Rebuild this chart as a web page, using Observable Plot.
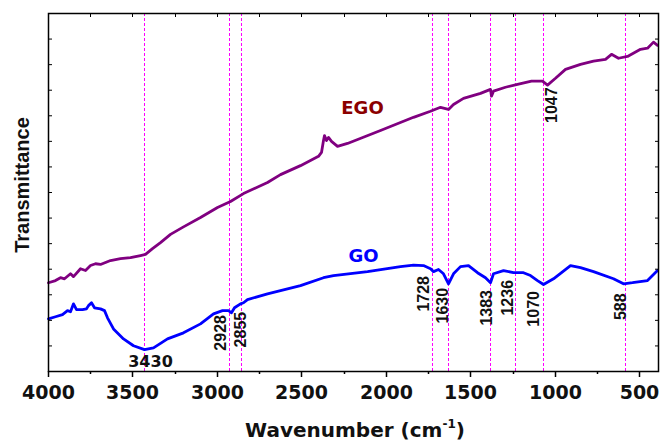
<!DOCTYPE html>
<html>
<head>
<meta charset="utf-8">
<script src="https://cdn.jsdelivr.net/npm/d3@7"></script>
<script src="https://cdn.jsdelivr.net/npm/@observablehq/plot@0.6"></script>
<style>
  html, body { margin: 0; padding: 0; background: #fff; }
  #chart svg { display: block; }
</style>
</head>
<body>
<div id="chart"></div>
<script>
// ---- Data ----
const goWavenumber = [4000,3960,3919,3889,3872,3854,3836,3801,3777,3765,3747,3730,3694,3670,3653,3617,3558,3499,3434,3380,3298,3203,3102,3025,2972,2936,2919,2901,2866,2848,2824,2706,2511,2375,2315,2114,1919,1842,1783,1741,1724,1694,1665,1635,1605,1564,1517,1463,1416,1387,1369,1310,1250,1191,1150,1108,1072,1013,913,854,777,659,600,541,458,428,395];
const goTrans = [14.7,15.3,15.9,17.0,16.7,18.9,17.3,17.3,17.5,18.4,19.2,17.8,17.5,17.0,15.0,11.9,9.1,7.2,6.1,6.6,9.1,10.8,13.3,16.1,17.0,17.0,16.4,17.8,18.9,19.2,20.1,21.7,24.0,26.2,26.8,27.9,29.3,29.7,29.6,28.7,27.9,28.5,27.3,24.5,27.3,29.3,29.6,27.6,26.2,24.8,27.3,28.2,27.6,27.6,26.8,25.4,24.3,25.9,29.6,29.0,27.9,25.9,24.5,24.8,25.4,26.8,28.2];

const egoWavenumber = [4000,3960,3931,3907,3872,3854,3812,3783,3753,3724,3694,3635,3576,3517,3457,3428,3386,3339,3280,3203,3102,3002,2925,2848,2706,2629,2511,2404,2386,2375,2369,2357,2345,2327,2292,2233,2038,1842,1741,1682,1635,1605,1546,1445,1387,1381,1369,1298,1222,1144,1075,1047,1002,943,854,777,706,671,629,576,499,458,422,395];
const egoTrans = [24.8,25.4,26.2,25.9,27.3,26.5,28.7,28.2,29.6,30.1,29.9,31.0,31.5,31.8,32.4,32.7,34.3,36.0,38.3,40.4,43.0,45.8,47.5,49.7,52.8,55.0,57.5,60.1,61.2,64.5,65.9,64.5,65.4,64.3,62.9,63.7,67.3,71.0,72.7,73.8,73.2,74.6,76.3,77.7,78.8,76.9,78.3,79.4,80.2,81.1,81.1,80.0,81.9,84.4,85.8,86.7,87.2,88.6,87.5,88.0,90.0,90.3,92.0,91.1];

// peak marker lines (cm-1)
const peakLines = [3430, 2928, 2855, 1728, 1630, 1383, 1236, 1070, 588];

// rotated peak labels
const rotLabels = ["2928", "2855", "1728", "1630", "1383", "1236", "1070", "588", "1047"];
const rotLabelX = [2984, 2866, 1783, 1670, 1410, 1286, 1132, 617, 1026];
const rotLabelY = [10.8, 11.7, 21.7, 18.4, 17.8, 20.6, 17.5, 18.1, 74.4];

// horizontal peak label
const flatLabels = ["3430"];
const flatLabelX = [3398];
const flatLabelY = [2.7];

// series names
const seriesNames = ["EGO", "GO"];
const seriesLabelX = [2144, 2138];
const seriesLabelY = [73.5, 32.1];
const seriesLabelColor = ["#8B0000", "#0000FF"];

const xMajorTicks = [4000, 3500, 3000, 2500, 2000, 1500, 1000, 500];
const xMinorTicks = [3750, 3250, 2750, 2250, 1750, 1250, 750];
const xTopTicks = [3750, 3500, 3250, 3000, 2750, 2500, 2250, 2000, 1750, 1500, 1250, 1000, 750, 500];
const yTicks = d3.range(0, 15).map(i => i * 100 / 14);

const goData = goWavenumber.map((w, i) => ({w, t: goTrans[i]}));
const egoData = egoWavenumber.map((w, i) => ({w, t: egoTrans[i]}));
const rotData = rotLabels.map((s, i) => ({s, w: rotLabelX[i], t: rotLabelY[i]}));
const flatData = flatLabels.map((s, i) => ({s, w: flatLabelX[i], t: flatLabelY[i]}));
const seriesData = seriesNames.map((s, i) => ({s, w: seriesLabelX[i], t: seriesLabelY[i], c: seriesLabelColor[i]}));

const chart = Plot.plot({
  width: 663,
  height: 442,
  marginLeft: 48,
  marginRight: 5,
  marginTop: 13,
  marginBottom: 71,
  style: {background: "#fff", overflow: "visible"},
  x: {domain: [4000, 390], round: true},
  y: {domain: [0, 100]},
  marks: [
    Plot.ruleX(peakLines, {stroke: "#ff00ff", strokeWidth: 1, strokeDasharray: "3,2"}),
    Plot.line(egoData, {x: "w", y: "t", stroke: "#800080", strokeWidth: 2.8, strokeLinejoin: "round"}),
    Plot.line(goData, {x: "w", y: "t", stroke: "#0000ff", strokeWidth: 2.8, strokeLinejoin: "round"}),
    Plot.text(rotData, {x: "w", y: "t", text: "s", rotate: -90, fontFamily: "Liberation Sans", fontWeight: "bold", fontSize: 16, fill: "#111", textAnchor: "middle"}),
    Plot.text(flatData, {x: "w", y: "t", text: "s", fontFamily: "DejaVu Sans", fontWeight: "bold", fontSize: 16, fill: "#111"}),
    Plot.text(seriesData, {x: "w", y: "t", text: "s", fill: "c", fontFamily: "DejaVu Sans", fontWeight: "bold", fontSize: 18}),
    Plot.frame({stroke: "#000", strokeWidth: 1.5}),
    Plot.axisX({anchor: "bottom", ticks: xMajorTicks, tickSize: 6, tickPadding: 8, tickFormat: d => String(d), fontFamily: "DejaVu Sans", fontWeight: "bold", fontSize: 19, label: null, strokeWidth: 1.5, fill: "#111"}),
    Plot.axisX({anchor: "bottom", ticks: xMinorTicks, tickSize: 3, tickFormat: () => "", label: null, strokeWidth: 1.5}),
    Plot.axisX({anchor: "top", ticks: xTopTicks, tickSize: -3, tickFormat: () => "", label: null, strokeWidth: 1}),
    Plot.axisY({anchor: "left", ticks: yTicks, tickSize: -4, tickFormat: () => "", label: null, strokeWidth: 1}),
    Plot.axisY({anchor: "right", ticks: yTicks, tickSize: -4, tickFormat: () => "", label: null, strokeWidth: 1})
  ]
});

document.getElementById("chart").appendChild(chart);

// axis titles
const svg = d3.select(chart);
const xt = svg.append("text")
  .attr("x", 355).attr("y", 437)
  .attr("text-anchor", "middle")
  .attr("font-family", "DejaVu Sans")
  .attr("font-weight", "bold")
  .attr("font-size", 20)
  .attr("fill", "#111");
xt.append("tspan").text("Wavenumber (cm");
xt.append("tspan").attr("font-size", 12).attr("dy", -9).text("-1");
xt.append("tspan").attr("dy", 9).text(")");

svg.append("text")
  .attr("transform", "translate(29,185) rotate(-90)")
  .attr("text-anchor", "middle")
  .attr("font-family", "Liberation Sans")
  .attr("font-weight", "bold")
  .attr("font-size", 20)
  .attr("fill", "#111")
  .text("Transmittance");
</script>
</body>
</html>
